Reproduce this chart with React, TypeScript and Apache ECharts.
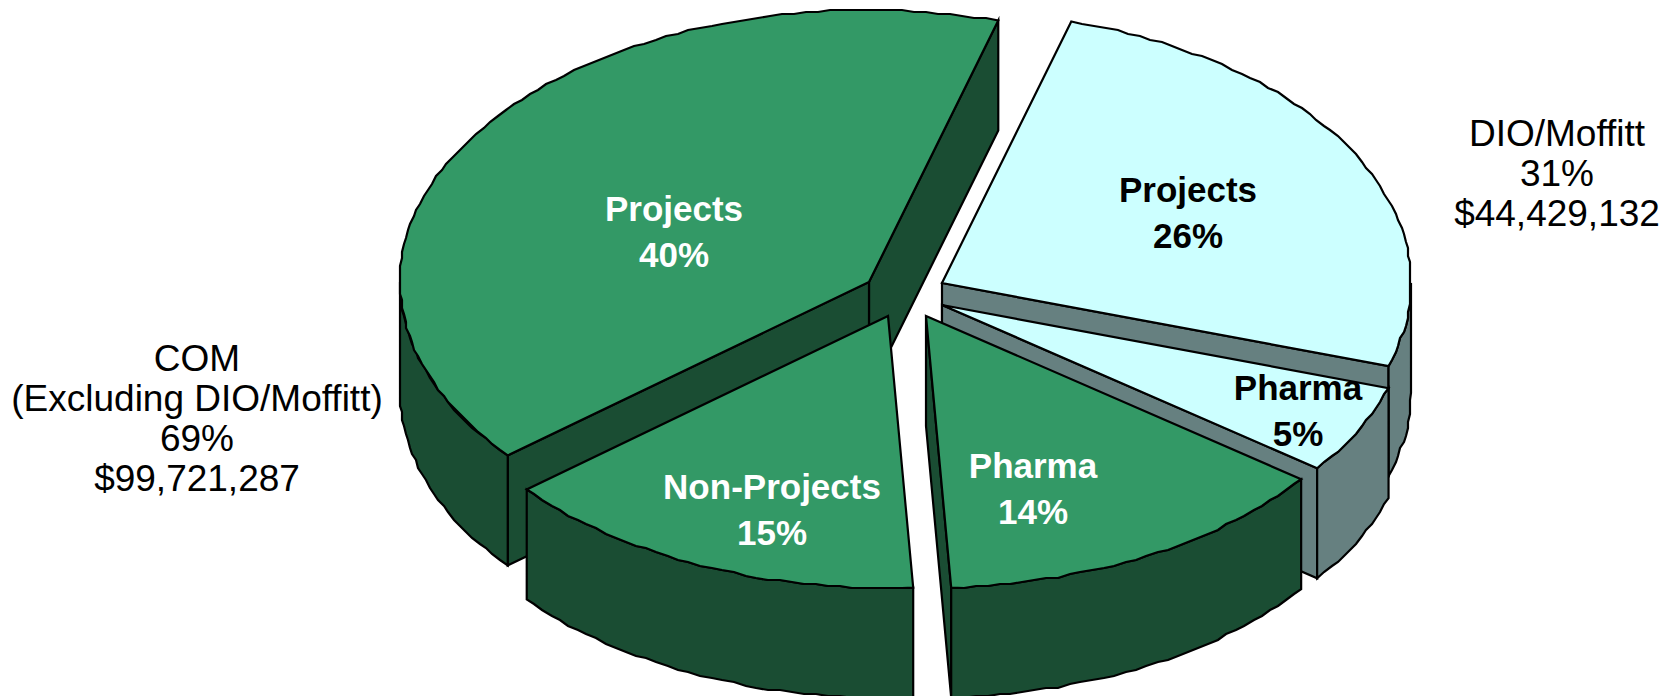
import React, { useEffect, useRef } from "react";
import * as echarts from "echarts";

// Data (share of the whole pie, %)
const sliceNames = ["Projects", "Non-Projects", "Pharma", "Pharma", "Projects"];
const sliceShares = [40.45, 14.85, 13.9, 5.3, 25.5];
const sliceGroups = ["COM", "COM", "COM", "DIO", "DIO"];
const comLabel = ["COM", "(Excluding DIO/Moffitt)", "69%", "$99,721,287"];
const dioLabel = ["DIO/Moffitt", "31%", "$44,429,132"];

// Layout only
const WIDTH = 1677;
const HEIGHT = 696;
const RX = 469;
const RY = 272;
const DEPTH = 110;
const START_DEG = 74;
const FONT = '"Liberation Sans", Arial, sans-serif';
const apexes = [[869, 282], [888, 316], [926, 316], [942, 305], [942, 283]];
const labelAt = [[674, 231], [772, 509], [1033, 488], [1298, 410], [1188, 212]];
const drawOrder = [0, 4, 3, 1, 2];
const palette: Record<string, { top: string; wall: string; text: string }> = {
  COM: { top: "#339966", wall: "#1A4D33", text: "#FFFFFF" },
  DIO: { top: "#CCFFFF", wall: "#668080", text: "#000000" },
};
const GRID = 2;
const snap = (v: number) => Math.round(v / GRID) * GRID;

const total = sliceShares.reduce((a, b) => a + b, 0);
const spans: [number, number][] = [];
{
  let at = START_DEG;
  sliceShares.forEach((v) => {
    const next = at + (v / total) * 360;
    spans.push([at, next]);
    at = next;
  });
}

function arc(cx: number, cy: number, from: number, to: number) {
  const pts: number[][] = [];
  const n = Math.max(2, Math.ceil((to - from) / 1.5));
  for (let i = 0; i <= n; i++) {
    const t = ((from + ((to - from) * i) / n) * Math.PI) / 180;
    const x = cx + RX * Math.cos(t);
    const y = cy - RY * Math.sin(t);
    pts.push(i === 0 || i === n ? [x, y] : [snap(x), snap(y)]);
  }
  return pts;
}

function renderSlice(params: any, api: any) {
  const idx = drawOrder[params.dataIndex];
  const share = api.value(0);
  const [a0, a1] = spans[idx];
  const [cx, cy] = apexes[idx];
  const col = palette[sliceGroups[idx]];
  const edge = { stroke: "#000", lineWidth: 2.2, lineJoin: "miter", miterLimit: 6 };
  const top = arc(cx, cy, a0, a1);
  const poly = (points: number[][], fill: string) => ({
    type: "polygon",
    shape: { points },
    style: { fill, ...edge },
  });
  const down = (p: number[]) => [p[0], p[1] + DEPTH];
  const children: any[] = [];
  const radial = (p: number[]) => poly([[cx, cy], p, down(p), [cx, cy + DEPTH]], col.wall);
  // A cut face is only drawn when it turns towards the viewer
  if (Math.cos((a0 * Math.PI) / 180) > 0) children.push(radial(top[0]));
  if (Math.cos((a1 * Math.PI) / 180) < 0) children.push(radial(top[top.length - 1]));
  // Outer rim: only the part of the arc that faces the viewer
  [[a0, a1], [a0 + 360, a1 + 360], [a0 - 360, a1 - 360]].forEach(([s, e]) => {
    const f = Math.max(s, 180);
    const t = Math.min(e, 360);
    if (t > f) {
      const rim = arc(cx, cy, f, t);
      children.push(poly([...rim, ...rim.slice().reverse().map(down)], col.wall));
    }
  });
  children.push(poly([[cx, cy], ...top], col.top));
  children.push({
    type: "text",
    x: labelAt[idx][0],
    y: labelAt[idx][1],
    style: {
      text: `${sliceNames[idx]}\n${Math.round(share)}%`,
      fill: col.text,
      font: `bold 35px ${FONT}`,
      lineHeight: 46,
      textAlign: "center",
      textVerticalAlign: "middle",
    },
  });
  return { type: "group", children };
}

export default function App() {
  const ref = useRef<HTMLDivElement>(null);
  useEffect(() => {
    document.body.style.margin = "0";
    document.body.style.overflow = "hidden";
    const chart = echarts.init(ref.current!, undefined, { renderer: "svg" });
    chart.setOption({
      animation: false,
      backgroundColor: "#FFFFFF",
      series: [
        {
          type: "custom",
          coordinateSystem: "none",
          silent: true,
          renderItem: renderSlice,
          data: drawOrder.map((i) => [sliceShares[i]]),
        },
      ],
      graphic: [
        {
          type: "text",
          x: 197,
          y: 418,
          style: {
            text: comLabel.join("\n"),
            fill: "#000",
            font: `37px ${FONT}`,
            lineHeight: 40,
            textAlign: "center",
            textVerticalAlign: "middle",
          },
        },
        {
          type: "text",
          x: 1557,
          y: 173,
          style: {
            text: dioLabel.join("\n"),
            fill: "#000",
            font: `37px ${FONT}`,
            lineHeight: 40,
            textAlign: "center",
            textVerticalAlign: "middle",
          },
        },
      ],
    });
    return () => chart.dispose();
  }, []);
  return <div ref={ref} style={{ width: WIDTH, height: HEIGHT }} />;
}
